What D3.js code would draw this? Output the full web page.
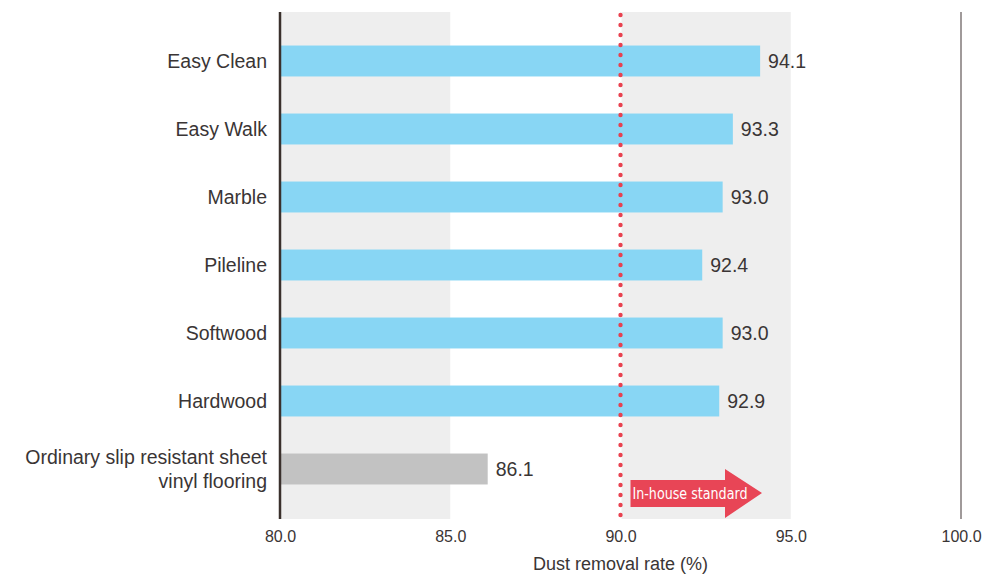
<!DOCTYPE html>
<html><head><meta charset="utf-8">
<script src="https://cdn.jsdelivr.net/npm/d3@7/dist/d3.min.js"></script>
<style>body{margin:0;background:#fff}svg{display:block}</style>
</head><body><svg id="c" width="989" height="576"></svg>
<script>
const categories = ["Easy Clean","Easy Walk","Marble","Pileline","Softwood","Hardwood","Ordinary slip resistant sheet\nvinyl flooring"];
const values = [94.1, 93.3, 93.0, 92.4, 93.0, 92.9, 86.1];
const tickValues = [80, 85, 90, 95, 100];
const bands = [[80,85],[90,95]];
const standard = 90;
const standardLabel = "In-house standard";
const axisTitle = "Dust removal rate (%)";

(function(){
const svg = d3.select("#c");
const font = "'Liberation Sans', Arial, sans-serif";
const textColor = "#3a3535";
const x = d3.scaleLinear().domain([80,100]).range([280,961]);
const y = d3.scaleBand().domain(categories).range([27,503]).paddingInner(0.545).paddingOuter(0.2725);
const plotTop = 12, plotBottom = 519;

svg.selectAll("rect.band").data(bands).enter().append("rect")
  .attr("x", d=>x(d[0])+1).attr("width", d=>x(d[1])-x(d[0])-1)
  .attr("y", plotTop).attr("height", plotBottom-plotTop).attr("fill","#eeeeee");

svg.selectAll("rect.bar").data(values).enter().append("rect")
  .attr("x", x(80)).attr("y",(d,i)=>y(categories[i]))
  .attr("width", d=>x(d)-x(80)).attr("height", y.bandwidth())
  .attr("fill",(d,i)=> i===categories.length-1 ? "#c2c2c2" : "#84d5f4")
  .attr("fill-opacity",(d,i)=> i===categories.length-1 ? 1 : 0.97);

svg.selectAll("text.val").data(values).enter().append("text")
  .attr("x", d=>x(d)+8).attr("y",(d,i)=>y(categories[i])+y.bandwidth()/2)
  .attr("dy","0.36em").attr("font-family",font).attr("font-size",19.5).attr("fill",textColor)
  .text(d=>d.toFixed(1));

categories.forEach((c,i)=>{
  const lines = c.split("\n");
  const cy = y(c)+y.bandwidth()/2;
  const lh = 24;
  const t = svg.append("text").attr("text-anchor","end").attr("font-family",font)
    .attr("font-size",19.5).attr("fill",textColor);
  lines.forEach((l,j)=>{
    t.append("tspan").attr("x",267).attr("y", cy + (j-(lines.length-1)/2)*lh).attr("dy","0.36em").text(l);
  });
});

svg.append("line").attr("x1",x(80)).attr("x2",x(80)).attr("y1",plotTop).attr("y2",plotBottom)
  .attr("stroke","#3a302c").attr("stroke-width",2.5);
svg.append("line").attr("x1",x(100)).attr("x2",x(100)).attr("y1",plotTop).attr("y2",plotBottom)
  .attr("stroke","#a09a9a").attr("stroke-width",2);

const ax = svg.append("g").attr("transform",`translate(0,${plotBottom})`)
  .call(d3.axisBottom(x).tickValues(tickValues).tickFormat(d3.format(".1f")).tickSize(0).tickPadding(12));
ax.select(".domain").remove();
ax.selectAll("text").attr("font-family",font).attr("font-size",16).attr("fill",textColor);

svg.append("text").attr("x",x(90)).attr("y",570).attr("text-anchor","middle")
  .attr("font-family",font).attr("font-size",18).attr("fill",textColor).text(axisTitle);

const dots = d3.range(plotTop+3, plotBottom, 10);
svg.selectAll("circle.dot").data(dots).enter().append("circle")
  .attr("cx", x(standard)).attr("cy", d=>d).attr("r",2.2).attr("fill","#e8414f");

const ax0 = x(standard)+10, bodyEnd = 725, tip = 762, ay = 493;
svg.append("path").attr("d",
  `M${ax0},${ay-13} L${bodyEnd},${ay-13} L${bodyEnd},${ay-24} L${tip},${ay} L${bodyEnd},${ay+25} L${bodyEnd},${ay+14} L${ax0},${ay+14} Z`)
  .attr("fill","#e84556");
svg.append("text").attr("x",ax0+2).attr("y",ay).attr("dy","0.36em")
  .attr("font-family","'Liberation Sans Narrow', 'DejaVu Sans Condensed', sans-serif")
  .attr("font-size",16).attr("fill","#fff").attr("textLength",115).attr("lengthAdjust","spacingAndGlyphs")
  .text(standardLabel);
})();
</script></body></html>
